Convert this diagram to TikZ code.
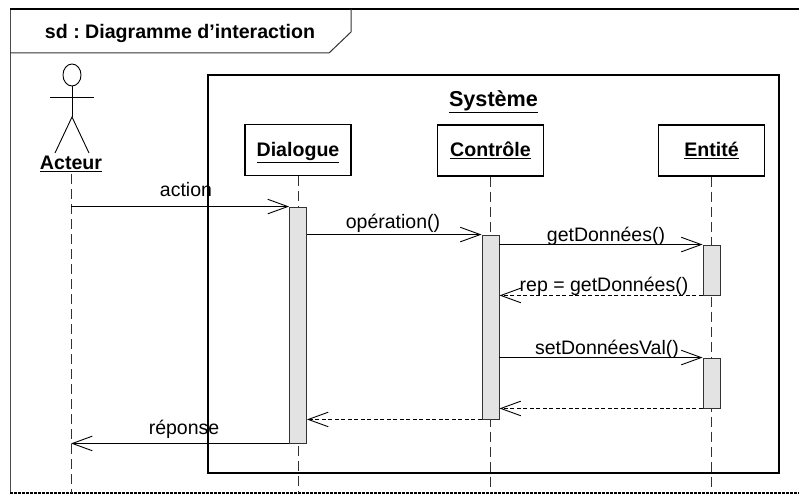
\documentclass[tikz,border=0pt]{standalone}
\usepackage{fontspec}
\setmainfont{Liberation Sans}
\usepackage{tikz}
\usetikzlibrary{positioning, arrows.meta, shapes.geometric}
\definecolor{barfill}{HTML}{E3E3E3}
\definecolor{barline}{HTML}{333333}
\frenchspacing
\tikzset{
    objet/.style={draw=black, line width=1.2pt, minimum width=106pt, minimum height=51pt, text height=15pt, text depth=2.5pt, font=\fontsize{19.6}{22}\selectfont\bfseries},
    activation/.style={draw=barline, fill=barfill, line width=0.9pt, minimum width=17pt, inner sep=0pt},
    message/.style={font=\fontsize{19.5}{22}\selectfont, inner sep=0pt, anchor=base},
    titrebold/.style={font=\fontsize{19.6}{22}\selectfont\bfseries, inner sep=0pt, anchor=base},
    lifeline/.style={draw=black!80, line width=1pt, dash pattern=on 10pt off 5pt},
    appel/.style={draw=black, line width=0.9pt, -{Straight Barb[length=20pt, width=15pt, angle'=40, line width=0.9pt]}},
    retour/.style={appel, dash pattern=on 4pt off 2.5pt}
}
\begin{document}
\begin{tikzpicture}[x=1pt, y=-1pt]
    \useasboundingbox (0, 0) rectangle (799, 494);

    % cadre
    \draw[line width=1pt, draw=black!70] (10, 493) -- (10, 9);
    \draw[line width=1.1pt] (10, 9) -- (799, 9);
    \draw[line width=1.2pt, dash pattern=on 2.5pt off 1.5pt] (10, 493) -- (799, 493);
    \draw[line width=1pt, draw=black!80] (351, 9) -- (351, 32) -- (329, 53) -- (10, 53);
    \node[titrebold] (titre) at (180, 38.5) {sd : Diagramme d’interaction};

    % systeme
    \node[draw=black, line width=1.3pt, minimum width=571pt, minimum height=398pt, inner sep=0pt] (systeme) at (493.5, 274) {};
    \node[titrebold, font=\fontsize{21.6}{24}\selectfont\bfseries] (nomsysteme) at (493.5, 106.5) {\underline{Système}};

    % acteur
    \node[draw=black, line width=0.9pt, ellipse, minimum width=18pt, minimum height=22pt, inner sep=0pt] (tete) at (72, 75) {};
    \coordinate (bassin) at (72, 117);
    \coordinate (brasg) at (50, 97);
    \coordinate (brasd) at (94, 97);
    \coordinate (piedg) at (55, 153);
    \coordinate (piedd) at (89, 153);
    \draw[line width=0.9pt] (tete) -- (bassin);
    \draw[line width=0.9pt] (brasg) -- (brasd);
    \draw[line width=0.9pt] (piedg) -- (bassin) -- (piedd);
    \node[titrebold] (acteur) at (71, 169.5) {\underline{Acteur}};

    % objets
    \node[objet] (dialogue) at (298, 150) {\underline{Dialogue}};
    \node[objet] (controle) at (490.5, 150.5) {\underline{Contrôle}};
    \node[objet] (entite) at (711.5, 150.5) {\underline{Entité}};

    % fins des lignes de vie
    \coordinate (debutacteur) at (71, 174);
    \coordinate (finacteur) at (71, 493);
    \coordinate (findialogue) at (298, 493);
    \coordinate (fincontrole) at (490.5, 493);
    \coordinate (finentite) at (711.5, 493);
    \draw[lifeline] (debutacteur) -- (finacteur);
    \draw[lifeline] (dialogue.south) -- (findialogue);
    \draw[lifeline] (controle.south) -- (fincontrole);
    \draw[lifeline] (entite.south) -- (finentite);

    % activations
    \node[activation, minimum height=236pt] (actdialogue) at (298, 325) {};
    \node[activation, minimum height=184pt] (actcontrole) at (490.5, 327) {};
    \node[activation, minimum height=50pt] (actentiteget) at (711.5, 270) {};
    \node[activation, minimum height=50pt] (actentiteset) at (711.5, 383) {};

    % messages
    \draw[appel] (finacteur |- actdialogue.north) -- (actdialogue.north west);
    \draw[appel] (actdialogue.east |- actcontrole.north) -- (actcontrole.north west);
    \draw[appel] (actcontrole.east |- actentiteget.north) -- (actentiteget.north west);
    \draw[retour] (actentiteget.south west) -- (actcontrole.east |- actentiteget.south);
    \draw[appel] (actcontrole.east |- actentiteset.north) -- (actentiteset.north west);
    \draw[retour] (actentiteset.south west) -- (actcontrole.east |- actentiteset.south);
    \draw[retour] (actcontrole.south west) -- (actdialogue.east |- actcontrole.south);
    \draw[appel] (actdialogue.south west) -- (finacteur |- actdialogue.south);

    % noms des messages
    \node[message] (action) at (186, 196.5) {action};
    \node[message] (operation) at (393, 229) {opération()};
    \node[message] (getdonnees) at (606, 241) {getDonnées()};
    \node[message] (rep) at (604, 291) {rep = getDonnées()};
    \node[message] (setdonnees) at (607, 354) {setDonnéesVal()};
    \node[message] (reponse) at (184, 434.5) {réponse};
\end{tikzpicture}
\end{document}
